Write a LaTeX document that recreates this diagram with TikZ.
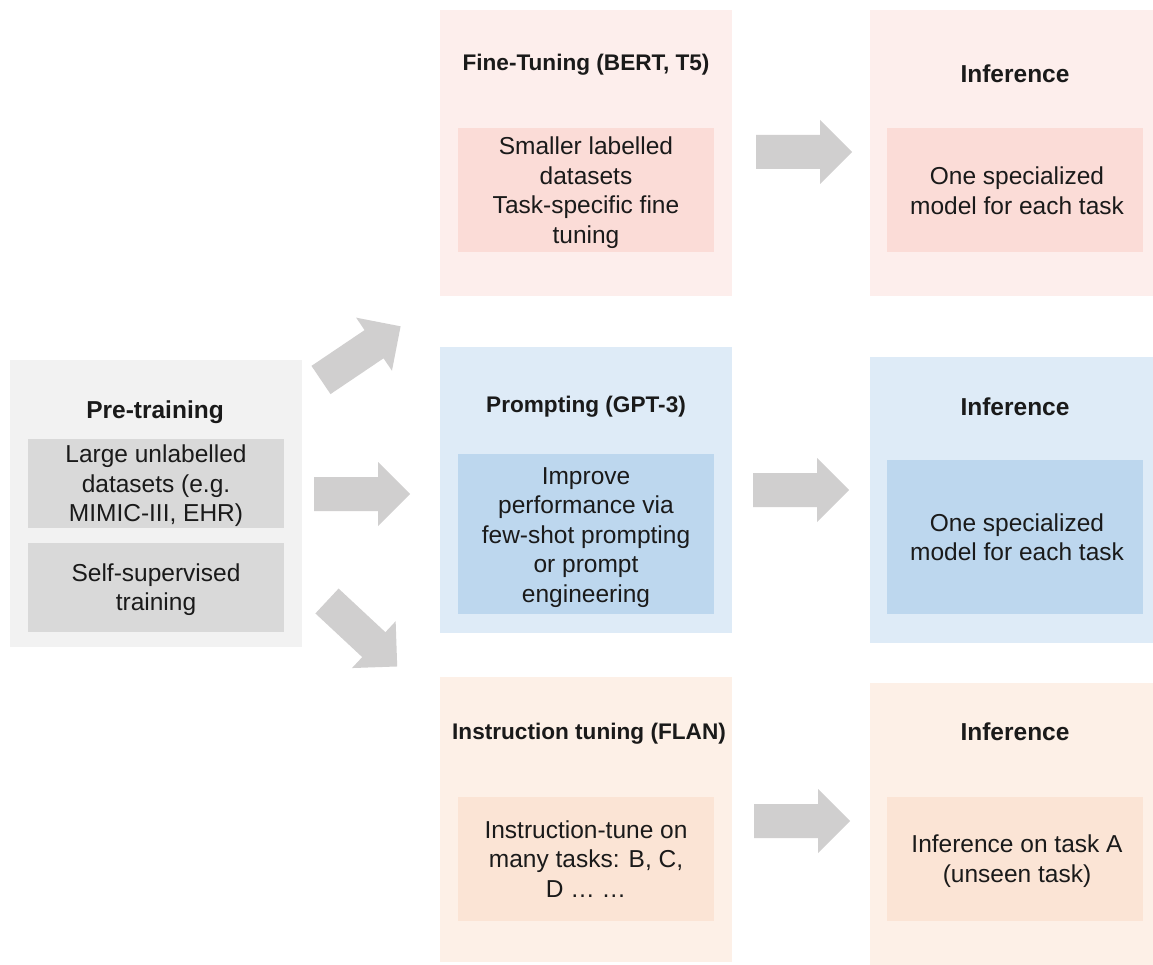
\documentclass[tikz,border=0pt]{standalone}
\usepackage{fontspec}
\setmainfont{Liberation Sans}
\definecolor{pinkA}{HTML}{FDEEEC}
\definecolor{pinkB}{HTML}{FBDCD7}
\definecolor{blueA}{HTML}{DEEBF7}
\definecolor{blueB}{HTML}{BDD7EE}
\definecolor{peachA}{HTML}{FDF0E7}
\definecolor{peachB}{HTML}{FBE4D5}
\definecolor{grayA}{HTML}{F2F2F2}
\definecolor{grayB}{HTML}{D9D9D9}
\definecolor{arrowgray}{HTML}{D0CFCF}
\definecolor{ink}{HTML}{1A1A1A}
\tikzset{
  panel/.style={draw=none, inner sep=0pt, outer sep=0pt, anchor=north west},
  bigtitle/.style={anchor=base, inner sep=0pt, text=ink, font=\fontsize{24.5}{29.5}\selectfont\bfseries},
  midtitle/.style={anchor=base, inner sep=0pt, text=ink, font=\fontsize{22.6}{27}\selectfont\bfseries},
  body/.style={anchor=center, inner sep=0pt, align=center, text=ink, font=\fontsize{24.5}{29.5}\selectfont},
  fatarrow/.pic={\fill[arrowgray] (0,-17) -- (64,-17) -- (64,-32) -- (96,0) -- (64,32) -- (64,17) -- (0,17) -- cycle;}
}
\begin{document}
\begin{tikzpicture}[x=1pt,y=-1pt]
\useasboundingbox[fill=white] (0,0) rectangle (1153,965);
% Pre-training
\node[panel, fill=grayA, minimum width=292, minimum height=287] (pre) at (10,360) {};
\node[panel, fill=grayB, minimum width=256, minimum height=89] (pre1) at (28,439) {};
\node[panel, fill=grayB, minimum width=256, minimum height=89] (pre2) at (28,543) {};
\node[bigtitle] (pretitle) at (155,418) {Pre-training};
\node[body] (pre1t) at (156,486.1) {\strut Large unlabelled\\datasets (e.g.\\MIMIC-III, EHR)\strut};
\node[body] (pre2t) at (156,590.1) {\strut Self-supervised\\training\strut};
% Fine-tuning row
\node[panel, fill=pinkA, minimum width=292, minimum height=286] (ft) at (440,10) {};
\node[panel, fill=pinkB, minimum width=256, minimum height=124] (ftin) at (458,128) {};
\node[midtitle] (fttitle) at (586,71) {Fine-Tuning (BERT, T5)};
\node[body] (ftt) at (586,193.35) {\strut Smaller labelled\\datasets\\Task-specific fine\\tuning\strut};
\node[panel, fill=pinkA, minimum width=283, minimum height=286] (inf1) at (870,10) {};
\node[panel, fill=pinkB, minimum width=256, minimum height=124] (inf1in) at (887,128) {};
\node[bigtitle] (inf1title) at (1015,83) {Inference};
\node[body] (inf1t) at (1017,193.6) {\strut One specialized\\model for each task\strut};
% Prompting row
\node[panel, fill=blueA, minimum width=292, minimum height=286] (pr) at (440,347) {};
\node[panel, fill=blueB, minimum width=256, minimum height=160] (prin) at (458,454) {};
\node[midtitle] (prtitle) at (586,412) {Prompting (GPT-3)};
\node[body] (prt) at (586,537.1) {\strut Improve\\performance via\\few-shot prompting\\or prompt\\engineering\strut};
\node[panel, fill=blueA, minimum width=283, minimum height=286] (inf2) at (870,357) {};
\node[panel, fill=blueB, minimum width=256, minimum height=154] (inf2in) at (887,460) {};
\node[bigtitle] (inf2title) at (1015,415) {Inference};
\node[body] (inf2t) at (1017,539.85) {\strut One specialized\\model for each task\strut};
% Instruction tuning row
\node[panel, fill=peachA, minimum width=292, minimum height=285] (it) at (440,677) {};
\node[panel, fill=peachB, minimum width=256, minimum height=124] (itin) at (458,797) {};
\node[midtitle] (ittitle) at (589,739) {Instruction tuning (FLAN)};
\node[body] (itt) at (586,861.6) {\strut Instruction-tune on\\many tasks: B, C,\\D … …\strut};
\node[panel, fill=peachA, minimum width=283, minimum height=282] (inf3) at (870,683) {};
\node[panel, fill=peachB, minimum width=256, minimum height=124] (inf3in) at (887,797) {};
\node[bigtitle] (inf3title) at (1015,740) {Inference};
\node[body] (inf3t) at (1017,861.6) {\strut Inference on task A\\(unseen task)\strut};
% arrows
\coordinate (aup) at (321,380);
\coordinate (amid) at (314,494);
\coordinate (adown) at (327,601);
\coordinate (a1) at (756,152);
\coordinate (a2) at (753,490);
\coordinate (a3) at (754,821);
\pic[rotate=34] at (aup) {fatarrow};
\pic at (amid) {fatarrow};
\pic[rotate=-43] at (adown) {fatarrow};
\pic at (a1) {fatarrow};
\pic at (a2) {fatarrow};
\pic at (a3) {fatarrow};
\end{tikzpicture}
\end{document}
